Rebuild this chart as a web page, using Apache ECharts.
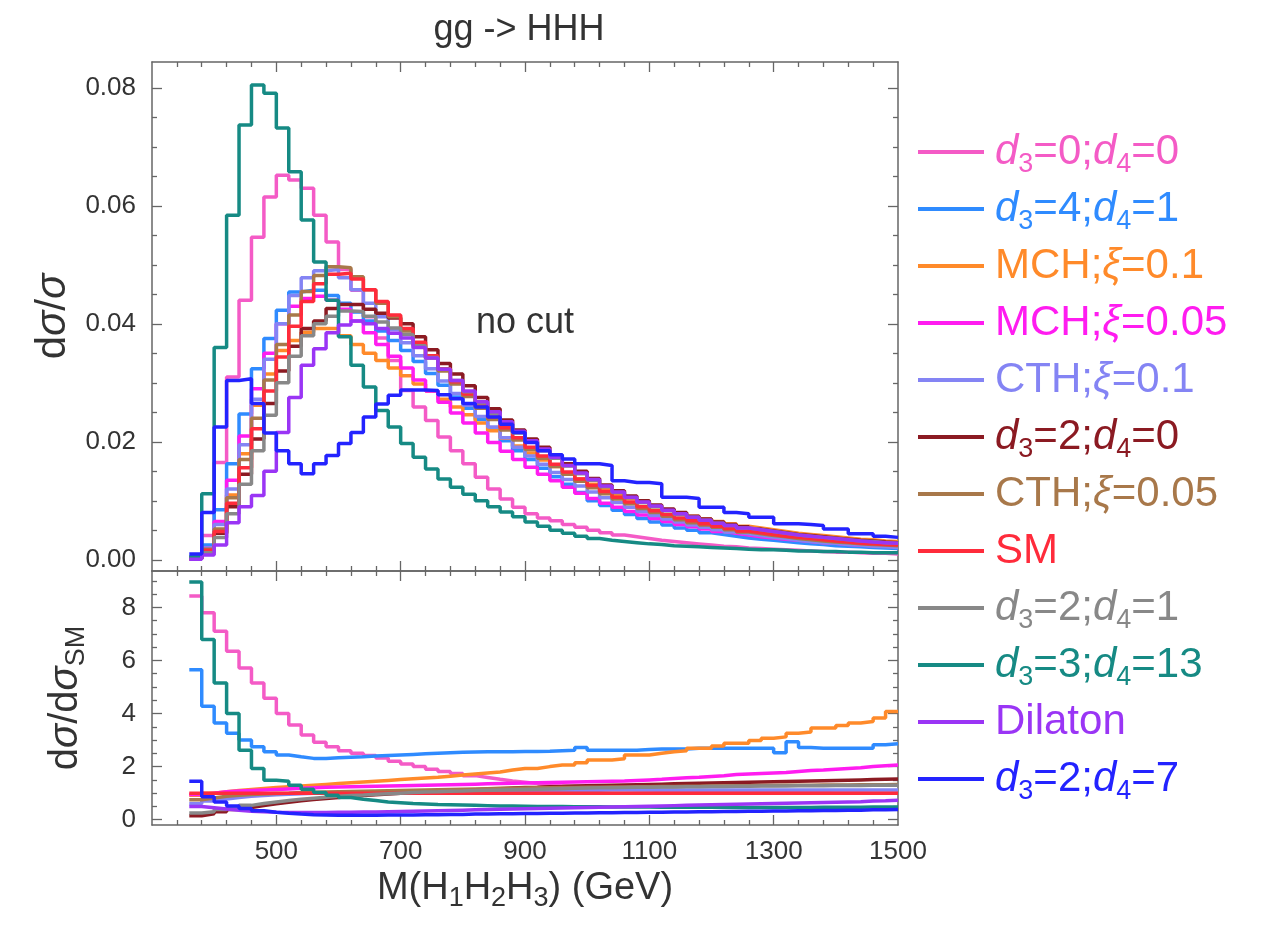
<!DOCTYPE html>
<html><head><meta charset="utf-8">
<script src="https://cdn.jsdelivr.net/npm/echarts@6/dist/echarts.min.js"></script>
<style>html,body{margin:0;padding:0;background:#fff}#c{width:1264px;height:925px}</style>
</head><body><div id="c"></div>
<script>
// ---------- data ----------
const massEdges = [360,380,400,420,440,460,480,500,520,540,560,580,600,620,640,660,680,700,720,740,760,780,800,820,840,860,880,900,920,940,960,980,1000,1020,1040,1060,1080,1100,1120,1140,1160,1180,1200,1220,1240,1260,1280,1300,1320,1340,1360,1380,1400,1420,1440,1460,1480,1500];
const xTickLabels = [500,700,900,1100,1300,1500];
const xMinorTicks = [340,380,420,460,540,580,620,660,740,780,820,860,940,980,1020,1060,1140,1180,1220,1260,1340,1380,1420,1460];
const yTopLabels = [0,0.02,0.04,0.06,0.08];
const yTopMinor = [0.005,0.01,0.015,0.025,0.03,0.035,0.045,0.05,0.055,0.065,0.07,0.075];
const yBotLabels = [0,2,4,6,8];
const yBotMinor = [0.5,1,1.5,2.5,3,3.5,4.5,5,5.5,6.5,7,7.5,8.5,9];

const seriesNames = ['d3=0;d4=0','d3=4;d4=1','MCH;ξ=0.1','MCH;ξ=0.05','CTH;ξ=0.1','d3=2;d4=0','CTH;ξ=0.05','SM','d3=2;d4=1','d3=3;d4=13','Dilaton','d3=2;d4=7'];
const seriesColors = ['#f45bc6','#2f8bff','#ff8a2a','#ff1cf0','#8484f4','#8b1a22','#a8784a','#ff2b3b','#888888','#168a84','#9a35f5','#2323ff'];

// normalized distributions dσ/σ (one value per 20 GeV bin, 360..1500)
const normD30D40 = [0.0003,0.0041,0.0165,0.0310,0.0440,0.0547,0.0615,0.0652,0.0644,0.0630,0.0584,0.0539,0.0492,0.0457,0.0412,0.0376,0.0338,0.0287,0.0259,0.0236,0.0208,0.0185,0.0163,0.0140,0.0120,0.0103,0.0089,0.0078,0.0071,0.0066,0.0060,0.0055,0.0050,0.0046,0.0042,0.0039,0.0036,0.0033,0.0031,0.0029,0.0027,0.0025,0.0023,0.0022,0.0020,0.0019,0.0018,0.0017,0.0016,0.0015,0.0014,0.0013,0.0013,0.0012,0.0011,0.0011,0.0010];
const normD34D41 = [0.0003,0.0025,0.0085,0.0163,0.0247,0.0324,0.0375,0.0423,0.0454,0.0457,0.0457,0.0448,0.0435,0.0420,0.0405,0.0388,0.0372,0.0355,0.0336,0.0316,0.0296,0.0276,0.0257,0.0238,0.0220,0.0202,0.0185,0.0170,0.0155,0.0141,0.0128,0.0114,0.0100,0.0092,0.0084,0.0077,0.0070,0.0064,0.0059,0.0054,0.0050,0.0046,0.0043,0.0040,0.0037,0.0035,0.0033,0.0031,0.0029,0.0027,0.0026,0.0024,0.0023,0.0022,0.0021,0.0020,0.0019];
const normMCH01 = [0.0002,0.0015,0.0045,0.0110,0.0180,0.0262,0.0315,0.0355,0.0372,0.0386,0.0392,0.0392,0.0380,0.0365,0.0350,0.0338,0.0325,0.0312,0.0298,0.0286,0.0272,0.0259,0.0246,0.0232,0.0219,0.0206,0.0193,0.0181,0.0169,0.0158,0.0147,0.0137,0.0128,0.0119,0.0111,0.0104,0.0097,0.0090,0.0084,0.0079,0.0074,0.0069,0.0065,0.0061,0.0057,0.0054,0.0051,0.0048,0.0045,0.0043,0.0041,0.0039,0.0037,0.0035,0.0034,0.0032,0.0031];
const normMCH005 = [0.0002,0.0020,0.0065,0.0135,0.0210,0.0290,0.0350,0.0400,0.0430,0.0443,0.0447,0.0440,0.0425,0.0405,0.0385,0.0365,0.0345,0.0325,0.0305,0.0286,0.0267,0.0249,0.0232,0.0215,0.0199,0.0184,0.0170,0.0157,0.0145,0.0134,0.0123,0.0113,0.0104,0.0096,0.0089,0.0082,0.0076,0.0070,0.0065,0.0060,0.0056,0.0052,0.0048,0.0045,0.0042,0.0039,0.0037,0.0035,0.0033,0.0031,0.0029,0.0028,0.0026,0.0025,0.0024,0.0023,0.0022];
const normCTH01 = [0.0003,0.0020,0.0060,0.0120,0.0195,0.0272,0.0340,0.0400,0.0448,0.0478,0.0490,0.0492,0.0478,0.0458,0.0435,0.0412,0.0390,0.0368,0.0346,0.0324,0.0303,0.0282,0.0262,0.0243,0.0225,0.0207,0.0191,0.0176,0.0162,0.0148,0.0136,0.0125,0.0115,0.0105,0.0097,0.0089,0.0082,0.0075,0.0069,0.0064,0.0059,0.0055,0.0051,0.0047,0.0044,0.0041,0.0038,0.0036,0.0033,0.0031,0.0029,0.0028,0.0026,0.0025,0.0023,0.0022,0.0021];
const normD32D40 = [0.0002,0.0015,0.0045,0.0090,0.0145,0.0205,0.0265,0.0320,0.0362,0.0392,0.0405,0.0426,0.0433,0.0433,0.0425,0.0418,0.0410,0.0400,0.0378,0.0356,0.0333,0.0315,0.0295,0.0275,0.0256,0.0237,0.0220,0.0205,0.0191,0.0177,0.0163,0.0150,0.0138,0.0127,0.0117,0.0108,0.0100,0.0093,0.0086,0.0080,0.0074,0.0069,0.0064,0.0060,0.0056,0.0052,0.0049,0.0046,0.0043,0.0041,0.0039,0.0037,0.0035,0.0033,0.0032,0.0030,0.0029];
const normCTH005 = [0.0002,0.0018,0.0052,0.0105,0.0170,0.0240,0.0305,0.0365,0.0415,0.0455,0.0482,0.0497,0.0495,0.0480,0.0458,0.0435,0.0412,0.0388,0.0365,0.0342,0.0320,0.0298,0.0277,0.0257,0.0238,0.0220,0.0203,0.0187,0.0172,0.0158,0.0145,0.0133,0.0122,0.0112,0.0103,0.0095,0.0087,0.0080,0.0074,0.0068,0.0063,0.0059,0.0055,0.0051,0.0047,0.0044,0.0041,0.0039,0.0036,0.0034,0.0032,0.0030,0.0029,0.0027,0.0026,0.0025,0.0024];
const normSM = [0.0002,0.0016,0.0048,0.0096,0.0156,0.0222,0.0286,0.0344,0.0396,0.0438,0.0468,0.0484,0.0486,0.0476,0.0458,0.0438,0.0415,0.0392,0.0369,0.0346,0.0324,0.0302,0.0281,0.0261,0.0242,0.0224,0.0207,0.0191,0.0176,0.0162,0.0149,0.0137,0.0126,0.0116,0.0106,0.0098,0.0090,0.0083,0.0077,0.0071,0.0066,0.0061,0.0057,0.0053,0.0049,0.0046,0.0043,0.0040,0.0038,0.0036,0.0034,0.0032,0.0030,0.0028,0.0027,0.0026,0.0025];
const normD32D41 = [0.0002,0.0012,0.0038,0.0078,0.0128,0.0185,0.0245,0.0300,0.0345,0.0380,0.0400,0.0413,0.0422,0.0421,0.0413,0.0403,0.0393,0.0382,0.0363,0.0343,0.0323,0.0304,0.0285,0.0266,0.0248,0.0231,0.0215,0.0200,0.0185,0.0172,0.0159,0.0146,0.0135,0.0124,0.0114,0.0105,0.0097,0.0090,0.0083,0.0077,0.0072,0.0067,0.0062,0.0058,0.0054,0.0051,0.0048,0.0045,0.0042,0.0040,0.0038,0.0036,0.0034,0.0032,0.0031,0.0029,0.0028];
const normD33D413 = [0.0005,0.0112,0.0360,0.0584,0.0737,0.0805,0.0791,0.0732,0.0658,0.0576,0.0505,0.0440,0.0378,0.0330,0.0293,0.0253,0.0225,0.0197,0.0174,0.0154,0.0137,0.0123,0.0111,0.0100,0.0090,0.0081,0.0073,0.0064,0.0057,0.0050,0.0045,0.0040,0.0036,0.0033,0.0031,0.0029,0.0027,0.0026,0.0024,0.0023,0.0022,0.0021,0.0020,0.0019,0.0018,0.0017,0.0017,0.0016,0.0015,0.0015,0.0014,0.0014,0.0013,0.0013,0.0012,0.0012,0.0012];
const normDilaton = [0.0001,0.0008,0.0025,0.0063,0.0090,0.0109,0.0150,0.0216,0.0275,0.0330,0.0358,0.0385,0.0398,0.0405,0.0400,0.0392,0.0384,0.0376,0.0360,0.0342,0.0323,0.0304,0.0286,0.0268,0.0251,0.0234,0.0218,0.0202,0.0188,0.0174,0.0160,0.0147,0.0136,0.0125,0.0115,0.0106,0.0098,0.0091,0.0084,0.0078,0.0072,0.0067,0.0062,0.0058,0.0054,0.0051,0.0048,0.0045,0.0042,0.0040,0.0038,0.0036,0.0034,0.0032,0.0030,0.0029,0.0028];
const normD32D47 = [0.0010,0.0080,0.0225,0.0304,0.0307,0.0265,0.0215,0.0185,0.0163,0.0146,0.0163,0.0177,0.0197,0.0216,0.0242,0.0264,0.0279,0.0288,0.0288,0.0287,0.0280,0.0273,0.0265,0.0259,0.0242,0.0230,0.0216,0.0199,0.0185,0.0178,0.0171,0.0163,0.0163,0.0160,0.0134,0.0131,0.0131,0.0129,0.0106,0.0106,0.0104,0.0089,0.0089,0.0080,0.0078,0.0072,0.0072,0.0061,0.0061,0.0060,0.0058,0.0052,0.0052,0.0044,0.0044,0.0040,0.0038];

// ratios dσ/dσ_SM
const ratioD30D40 = [8.43,7.80,7.10,6.35,5.72,5.15,4.58,4.00,3.57,3.19,2.92,2.75,2.60,2.50,2.42,2.32,2.20,2.10,2.00,1.90,1.82,1.74,1.66,1.59,1.52,1.46,1.41,1.36,1.32,1.28,1.25,1.22,1.19,1.17,1.15,1.13,1.12,1.10,1.09,1.08,1.07,1.06,1.05,1.05,1.04,1.04,1.03,1.03,1.02,1.02,1.02,1.01,1.01,1.01,1.00,1.00,1.00];
const ratioD34D41 = [5.65,4.27,3.64,3.26,3.00,2.75,2.56,2.44,2.37,2.31,2.31,2.33,2.35,2.37,2.40,2.42,2.44,2.46,2.48,2.50,2.52,2.54,2.55,2.56,2.56,2.56,2.57,2.57,2.58,2.60,2.62,2.72,2.62,2.62,2.62,2.62,2.64,2.66,2.66,2.66,2.69,2.69,2.69,2.69,2.69,2.69,2.69,2.52,2.94,2.72,2.69,2.69,2.69,2.69,2.69,2.82,2.86];
const ratioMCH01 = [0.92,1.00,1.05,1.10,1.14,1.18,1.21,1.24,1.27,1.30,1.33,1.36,1.39,1.42,1.45,1.48,1.51,1.54,1.57,1.60,1.64,1.68,1.72,1.76,1.80,1.87,1.93,1.93,2.00,2.06,2.06,2.15,2.25,2.25,2.30,2.44,2.44,2.50,2.56,2.60,2.69,2.69,2.78,2.88,2.88,2.98,3.07,3.12,3.26,3.30,3.45,3.45,3.55,3.64,3.70,3.83,4.08];
const ratioMCH005 = [0.95,1.00,1.05,1.08,1.10,1.12,1.14,1.16,1.18,1.20,1.22,1.23,1.24,1.25,1.26,1.27,1.28,1.29,1.30,1.31,1.32,1.33,1.34,1.35,1.36,1.37,1.38,1.39,1.40,1.41,1.42,1.43,1.44,1.45,1.46,1.48,1.50,1.52,1.55,1.58,1.60,1.63,1.66,1.70,1.72,1.74,1.76,1.78,1.82,1.85,1.87,1.90,1.93,1.96,2.00,2.03,2.06];
const ratioCTH01 = [0.60,0.70,0.78,0.84,0.88,0.91,0.94,0.96,0.98,1.00,1.01,1.02,1.03,1.04,1.05,1.06,1.06,1.07,1.07,1.08,1.08,1.09,1.09,1.09,1.10,1.10,1.10,1.10,1.11,1.11,1.11,1.11,1.11,1.12,1.12,1.12,1.12,1.12,1.12,1.12,1.12,1.12,1.12,1.12,1.12,1.12,1.12,1.12,1.12,1.12,1.12,1.12,1.12,1.12,1.12,1.12,1.12];
const ratioD32D40 = [0.15,0.22,0.30,0.38,0.46,0.53,0.60,0.66,0.71,0.76,0.80,0.84,0.88,0.91,0.94,0.97,1.00,1.02,1.05,1.07,1.09,1.11,1.13,1.15,1.17,1.19,1.21,1.22,1.24,1.25,1.27,1.28,1.29,1.30,1.31,1.32,1.33,1.34,1.35,1.36,1.37,1.38,1.39,1.40,1.41,1.42,1.43,1.44,1.45,1.46,1.47,1.48,1.49,1.50,1.51,1.52,1.53];
const ratioCTH005 = [0.75,0.82,0.88,0.92,0.95,0.97,0.99,1.00,1.02,1.03,1.04,1.05,1.06,1.07,1.08,1.09,1.10,1.11,1.12,1.13,1.14,1.15,1.16,1.17,1.18,1.18,1.19,1.20,1.20,1.21,1.21,1.22,1.22,1.23,1.23,1.24,1.24,1.25,1.25,1.26,1.26,1.27,1.27,1.28,1.28,1.29,1.29,1.30,1.30,1.30,1.31,1.31,1.31,1.32,1.32,1.32,1.33];
const ratioSM = [1,1,1,1,1,1,1,1,1,1,1,1,1,1,1,1,1,1,1,1,1,1,1,1,1,1,1,1,1,1,1,1,1,1,1,1,1,1,1,1,1,1,1,1,1,1,1,1,1,1,1,1,1,1,1,1,1];
const ratioD32D41 = [0.25,0.30,0.38,0.46,0.54,0.61,0.67,0.72,0.77,0.81,0.85,0.88,0.91,0.93,0.96,0.98,1.00,1.02,1.04,1.05,1.07,1.08,1.10,1.11,1.12,1.13,1.14,1.15,1.16,1.17,1.18,1.19,1.20,1.20,1.21,1.22,1.22,1.23,1.23,1.24,1.24,1.25,1.25,1.26,1.26,1.27,1.27,1.27,1.28,1.28,1.28,1.29,1.29,1.29,1.30,1.30,1.30];
const ratioD33D413 = [8.96,6.79,5.15,4.00,2.62,1.93,1.49,1.45,1.30,1.15,1.02,0.92,0.84,0.77,0.72,0.67,0.64,0.61,0.59,0.57,0.56,0.55,0.54,0.53,0.52,0.52,0.51,0.50,0.50,0.50,0.49,0.49,0.49,0.48,0.48,0.48,0.48,0.47,0.47,0.47,0.47,0.47,0.47,0.46,0.46,0.46,0.46,0.46,0.46,0.46,0.47,0.47,0.47,0.47,0.48,0.48,0.48];
const ratioDilaton = [0.50,0.45,0.40,0.36,0.32,0.30,0.28,0.27,0.27,0.27,0.27,0.28,0.28,0.29,0.29,0.30,0.31,0.32,0.33,0.34,0.35,0.36,0.37,0.38,0.39,0.40,0.41,0.42,0.43,0.44,0.45,0.46,0.47,0.48,0.49,0.50,0.51,0.52,0.53,0.54,0.55,0.56,0.57,0.58,0.59,0.60,0.61,0.62,0.63,0.64,0.65,0.66,0.67,0.68,0.70,0.71,0.73];
const ratioD32D47 = [1.45,0.86,0.67,0.52,0.42,0.34,0.28,0.24,0.21,0.19,0.18,0.17,0.17,0.17,0.17,0.18,0.18,0.18,0.19,0.19,0.20,0.20,0.21,0.21,0.22,0.22,0.23,0.23,0.24,0.24,0.25,0.25,0.26,0.26,0.27,0.27,0.28,0.28,0.29,0.29,0.30,0.30,0.31,0.31,0.32,0.32,0.33,0.33,0.34,0.34,0.35,0.35,0.36,0.36,0.37,0.37,0.38];

const normList = [normD30D40,normD34D41,normMCH01,normMCH005,normCTH01,normD32D40,normCTH005,normSM,normD32D41,normD33D413,normDilaton,normD32D47];
const ratioList = [ratioD30D40,ratioD34D41,ratioMCH01,ratioMCH005,ratioCTH01,ratioD32D40,ratioCTH005,ratioSM,ratioD32D41,ratioD33D413,ratioDilaton,ratioD32D47];

// ---------- chart ----------
const FONT = '"Liberation Sans", Arial, Helvetica, sans-serif';
const FRAME = '#666';
function hist(vals){
  const d = vals.map((v,i)=>[massEdges[i], v]);
  d.push([massEdges[vals.length], vals[vals.length-1]]);
  return d;
}
function xAx(grid, pos, ticks, len, frame, labels){
  return {
    type:'value', gridIndex:grid, position:pos, min:300, max:1500,
    splitLine:{show:false},
    axisLine:{show:frame, onZero:false, lineStyle:{color:FRAME, width:1.5}},
    axisTick:{show:true, inside:true, length:len, customValues:ticks, lineStyle:{color:FRAME, width:1.3}},
    axisLabel: labels ? {show:true, customValues:xTickLabels, formatter:v=>String(v), fontSize:26, color:'#333', fontFamily:FONT, margin:14} : {show:false}
  };
}
function yAx(grid, pos, min, max, ticks, len, frame, labels, fmt){
  return {
    type:'value', gridIndex:grid, position:pos, min:min, max:max,
    splitLine:{show:false},
    axisLine:{show:frame, onZero:false, lineStyle:{color:FRAME, width:1.5}},
    axisTick:{show:true, inside:true, length:len, customValues:ticks, lineStyle:{color:FRAME, width:1.3}},
    axisLabel: labels ? {show:true, customValues:labels, formatter:fmt, fontSize:26, color:'#333', fontFamily:FONT, margin:16} : {show:false}
  };
}
const xMajor = [500,700,900,1100,1300];
const xAxes = [
  xAx(0,'bottom',xMajor,10,true,false),
  xAx(0,'bottom',xMinorTicks,5,false,false),
  xAx(0,'top',xMajor,10,true,false),
  xAx(0,'top',xMinorTicks,5,false,false),
  xAx(1,'bottom',xMajor,10,true,true),
  xAx(1,'bottom',xMinorTicks,5,false,false),
  xAx(1,'top',xMajor,10,true,false),
  xAx(1,'top',xMinorTicks,5,false,false)
];
const richSub = {
  i:{fontStyle:'italic'},
  s:{fontSize:27, verticalAlign:'bottom', lineHeight:27}
};
xAxes[4].name = 'M(H{s|1}H{s|2}H{s|3}) (GeV)';
xAxes[4].nameLocation = 'middle';
xAxes[4].nameGap = 34;
xAxes[4].nameTextStyle = {fontSize:38, color:'#333', fontFamily:FONT, lineHeight:46, rich:richSub};

const yTopMin = -0.0019, yTopMax = 0.0844, yBotMin = -0.2, yBotMax = 9.37;
const yAxes = [
  yAx(0,'left',yTopMin,yTopMax,yTopLabels,10,true,yTopLabels,v=>v.toFixed(2)),
  yAx(0,'left',yTopMin,yTopMax,yTopMinor,5,false,null),
  yAx(0,'right',yTopMin,yTopMax,yTopLabels,10,true,null),
  yAx(0,'right',yTopMin,yTopMax,yTopMinor,5,false,null),
  yAx(1,'left',yBotMin,yBotMax,yBotLabels,10,true,yBotLabels,v=>String(v)),
  yAx(1,'left',yBotMin,yBotMax,yBotMinor,5,false,null),
  yAx(1,'right',yBotMin,yBotMax,yBotLabels,10,true,null),
  yAx(1,'right',yBotMin,yBotMax,yBotMinor,5,false,null)
];
yAxes[0].name = 'd{i|σ}/{i|σ}';
yAxes[0].nameLocation = 'middle';
yAxes[0].nameGap = 56;
yAxes[0].nameRotate = 90;
yAxes[0].nameTextStyle = {fontSize:42, color:'#333', fontFamily:FONT, rich:{i:{fontStyle:'italic', fontSize:42}}};
yAxes[4].name = 'd{i|σ}/d{i|σ}{s|SM}';
yAxes[4].nameLocation = 'middle';
yAxes[4].nameGap = 62;
yAxes[4].nameRotate = 90;
yAxes[4].nameTextStyle = {fontSize:40, color:'#333', fontFamily:FONT, lineHeight:48, rich:{i:{fontStyle:'italic', fontSize:40}, s:{fontSize:27, verticalAlign:'bottom', lineHeight:27}}};

const series = [];
seriesNames.forEach((name,k)=>{
  series.push({name:name, type:'line', step:'end', xAxisIndex:0, yAxisIndex:0, data:hist(normList[k]),
    symbol:'none', lineStyle:{color:seriesColors[k], width:3.5}, itemStyle:{color:seriesColors[k]}, z:2+k*0.01});
});
seriesNames.forEach((name,k)=>{
  series.push({name:name, type:'line', step:'end', xAxisIndex:4, yAxisIndex:4, data:hist(ratioList[k]),
    symbol:'none', lineStyle:{color:seriesColors[k], width:3.5}, itemStyle:{color:seriesColors[k]}, z:2+k*0.01});
});

function legendFmt(name){
  return name.replace(/d(\d)/g,'{i|d}{s|$1}').replace(/ξ/g,'{i|ξ}');
}

const option = {
  animation:false,
  backgroundColor:'#fff',
  textStyle:{fontFamily:FONT},
  grid:[
    {left:152, top:62, width:746, height:509},
    {left:152, top:571, width:746, height:254}
  ],
  xAxis:xAxes,
  yAxis:yAxes,
  legend:{
    orient:'vertical', left:913, top:121, icon:'rect', itemWidth:66, itemHeight:4, itemGap:5,
    selectedMode:false,
    data:seriesNames.map((n,i)=>({name:n, textStyle:{color:seriesColors[i]}})),
    formatter:legendFmt,
    textStyle:{fontSize:42, lineHeight:52, fontFamily:FONT, padding:[0,0,0,6],
      rich:{i:{fontStyle:'italic', fontSize:42}, s:{fontSize:27, verticalAlign:'bottom', lineHeight:27}}}
  },
  graphic:[
    {type:'text', x:519, y:30, style:{text:'gg -> HHH', fontSize:36, fontFamily:FONT, fill:'#333', align:'center', verticalAlign:'middle'}},
    {type:'text', x:525, y:323, style:{text:'no cut', fontSize:36, fontFamily:FONT, fill:'#333', align:'center', verticalAlign:'middle'}}
  ],
  series:series
};
const chart = echarts.init(document.getElementById('c'), null, {renderer:'canvas'});
chart.setOption(option);
</script>
</body></html>
